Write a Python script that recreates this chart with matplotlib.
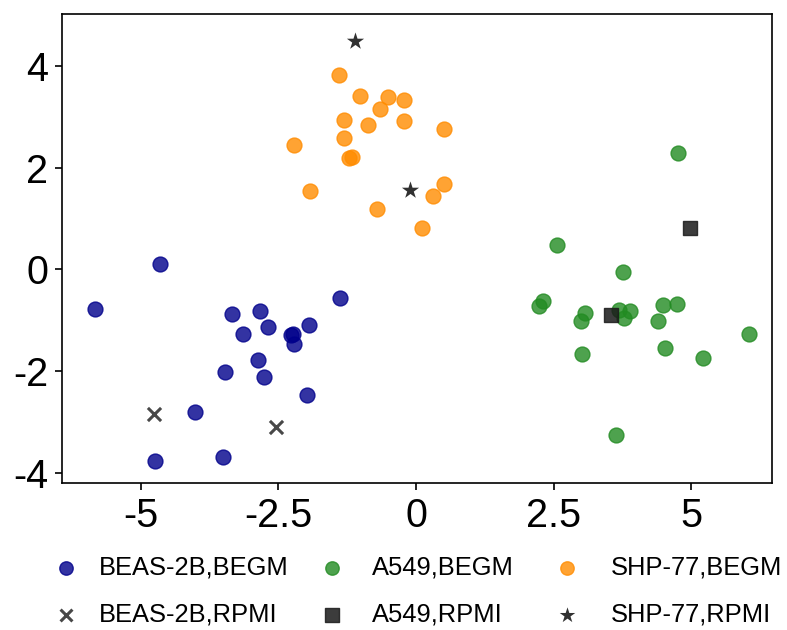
import matplotlib
matplotlib.use("Agg")
import matplotlib.pyplot as plt

plt.rcParams['font.family'] = ['Liberation Sans', 'DejaVu Sans']
plt.rcParams['axes.unicode_minus'] = False

beas_begm_x = [-5.83, -4.66, -3.35, -2.83, -3.15, -2.69, -2.28, -2.23, -2.21, -1.94, -1.39,
               -2.88, -3.48, -2.76, -1.98, -4.02, -4.75, -3.51]
beas_begm_y = [-0.79, 0.11, -0.87, -0.81, -1.27, -1.14, -1.30, -1.28, -1.47, -1.09, -0.56,
               -1.78, -2.02, -2.11, -2.47, -2.80, -3.77, -3.69]
beas_rpmi_x = [-4.77, -2.54]
beas_rpmi_y = [-2.84, -3.10]

a549_begm_x = [4.77, 2.57, 3.77, 2.30, 2.24, 3.07, 3.00, 3.69, 3.89, 3.78, 4.48, 4.74, 4.40,
               6.06, 3.01, 4.52, 5.22, 3.63]
a549_begm_y = [2.30, 0.47, -0.06, -0.63, -0.73, -0.85, -1.01, -0.80, -0.82, -0.96, -0.70, -0.69,
               -1.02, -1.27, -1.66, -1.54, -1.74, -3.26]
a549_rpmi_x = [3.54, 4.98]
a549_rpmi_y = [-0.90, 0.81]

shp_begm_x = [-1.40, -1.02, -0.51, -0.21, -0.66, -1.30, -0.88, -0.21, 0.51, -1.31, -2.21,
              -1.21, -1.16, 0.50, 0.30, -1.93, -0.71, 0.10]
shp_begm_y = [3.83, 3.41, 3.39, 3.33, 3.16, 2.94, 2.85, 2.92, 2.76, 2.59, 2.45,
              2.19, 2.22, 1.68, 1.45, 1.54, 1.18, 0.82]
shp_rpmi_x = [-1.11, -0.11]
shp_rpmi_y = [4.50, 1.57]

xticks = [-5, -2.5, 0, 2.5, 5]
xticklabels = ['-5', '-2.5', '0', '2.5', '5']
yticks = [-4, -2, 0, 2, 4]

fig = plt.figure(figsize=(7.87, 6.3), dpi=100)
ax = fig.add_axes([0.079, 0.233, 0.902, 0.745])

blue = '#00008B'
green = '#228B22'
orange = '#FF8C00'
dark = '#1a1a1a'

h1 = ax.scatter(beas_begm_x, beas_begm_y, s=115, c=blue, alpha=0.8, edgecolors=blue, linewidths=1, label='BEAS-2B,BEGM')
h2 = ax.scatter(beas_rpmi_x, beas_rpmi_y, s=90, c=dark, alpha=0.8, marker='x', linewidths=2.2, label='BEAS-2B,RPMI')
h3 = ax.scatter(a549_begm_x, a549_begm_y, s=115, c=green, alpha=0.8, edgecolors=green, linewidths=1, label='A549,BEGM')
h4 = ax.scatter(a549_rpmi_x, a549_rpmi_y, s=115, c=dark, alpha=0.85, marker='s', edgecolors=dark, linewidths=1, label='A549,RPMI')
h5 = ax.scatter(shp_begm_x, shp_begm_y, s=115, c=orange, alpha=0.8, edgecolors=orange, linewidths=1, label='SHP-77,BEGM')
h6 = ax.scatter(shp_rpmi_x, shp_rpmi_y, s=170, c=dark, alpha=0.9, marker='*', linewidths=0, label='SHP-77,RPMI')

ax.set_xlim(-6.43, 6.47)
ax.set_ylim(-4.21, 5.03)
ax.set_xticks(xticks)
ax.set_xticklabels(xticklabels)
ax.set_yticks(yticks)
ax.tick_params(labelsize=28.5, length=5, width=1.2, colors='black', pad=5)
for sp in ax.spines.values():
    sp.set_linewidth(1.2)

columns = [((h1, h2), 53, 0.79), ((h3, h4), 319, 1.06), ((h5, h6), 554, 1.22)]
for hs, x0, tp in columns:
    leg = fig.legend(hs, [h.get_label() for h in hs], loc='upper left',
                     bbox_to_anchor=(x0 / 787, 1 - 556 / 630), ncol=1,
                     frameon=False, fontsize=18.4, markerscale=0.9, handlelength=1.0,
                     handletextpad=tp, labelspacing=0.88, borderpad=0, borderaxespad=0)

fig.savefig('out.png', dpi=100)
